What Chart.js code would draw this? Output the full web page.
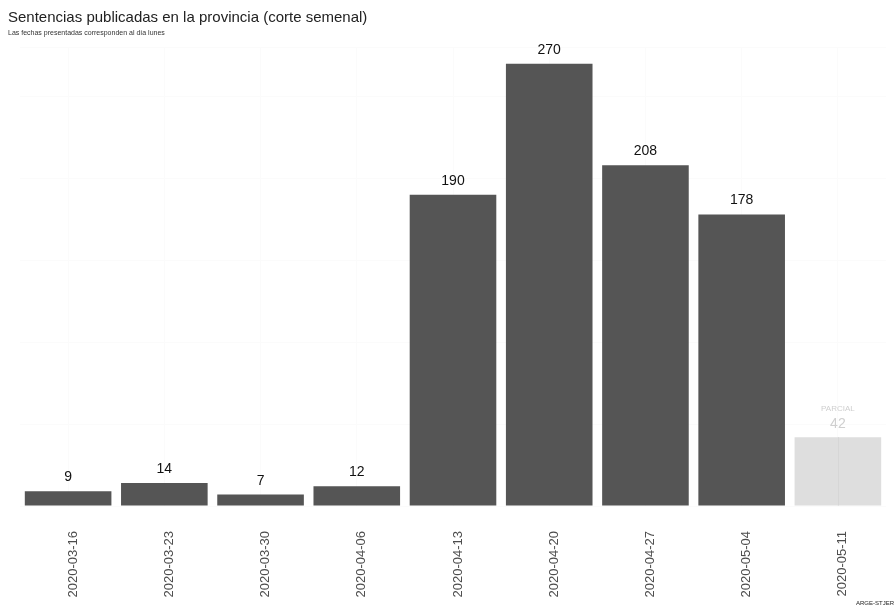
<!DOCTYPE html>
<html>
<head>
<meta charset="utf-8">
<script src="https://cdn.jsdelivr.net/npm/chart.js@4/dist/chart.umd.min.js"></script>
<style>
  html, body { margin: 0; padding: 0; background: #fff; }
  #wrap { width: 895px; height: 607px; }
</style>
</head>
<body>
<div id="wrap"><canvas id="chart"></canvas></div>
<script>
const weeks = ["2020-03-16", "2020-03-23", "2020-03-30", "2020-04-06", "2020-04-13",
  "2020-04-20", "2020-04-27", "2020-05-04", "2020-05-11"];
const sentencias = [9, 14, 7, 12, 190, 270, 208, 178, 42];
const partial = [false, false, false, false, false, false, false, false, true];

const FONT = "'Liberation Sans', Arial, sans-serif";

// value labels above each bar
const barLabels = {
  id: "barLabels",
  afterDatasetsDraw(chart) {
    const ctx = chart.ctx;
    const meta = chart.getDatasetMeta(0);
    ctx.save();
    ctx.textAlign = "center";
    ctx.textBaseline = "alphabetic";
    meta.data.forEach((bar, i) => {
      if (partial[i]) {
        // grid line shows through the light partial bar
        ctx.strokeStyle = "#d6d6d6";
        ctx.lineWidth = 1;
        ctx.beginPath();
        ctx.moveTo(Math.round(bar.x) + 0.5, bar.y);
        ctx.lineTo(Math.round(bar.x) + 0.5, bar.base);
        ctx.stroke();
        ctx.fillStyle = "#cfcfcf";
        ctx.font = "14px " + FONT;
        ctx.fillText(sentencias[i], bar.x, bar.y - 9);
        ctx.font = "8px " + FONT;
        ctx.fillText("PARCIAL", bar.x, bar.y - 26);
      } else {
        ctx.fillStyle = "#111";
        ctx.font = "14px " + FONT;
        ctx.fillText(sentencias[i], bar.x, bar.y - 10);
      }
    });
    ctx.restore();
  }
};

const caption = {
  id: "caption",
  afterDraw(chart) {
    const ctx = chart.ctx;
    ctx.save();
    ctx.font = "6px " + FONT;
    ctx.fillStyle = "#222";
    ctx.textAlign = "right";
    ctx.textBaseline = "bottom";
    ctx.fillText("ARGE-STJER", chart.width - 1, chart.height - 1);
    ctx.restore();
  }
};

new Chart(document.getElementById("chart").getContext("2d"), {
  type: "bar",
  data: {
    labels: weeks,
    datasets: [{
      data: sentencias,
      backgroundColor: partial.map(p => p ? "#dedede" : "#555555"),
      borderWidth: 0,
      categoryPercentage: 0.9,
      barPercentage: 1,
    }],
  },
  options: {
    responsive: true,
    maintainAspectRatio: false,
    animation: false,
    layout: { padding: { left: 8, right: 9, top: 0, bottom: 0 } },
    plugins: {
      legend: { display: false },
      tooltip: { enabled: false },
      title: {
        display: true,
        text: "Sentencias publicadas en la provincia (corte semenal)",
        align: "start",
        color: "#222",
        font: { family: FONT, size: 15, weight: "normal" },
        padding: { top: 9, bottom: 2 },
      },
      subtitle: {
        display: true,
        text: "Las fechas presentadas corresponden al día lunes",
        align: "start",
        color: "#333",
        font: { family: FONT, size: 7 },
        padding: { top: 0, bottom: 10 },
      },
    },
    scales: {
      x: {
        grid: { color: "#fbfbfb", drawTicks: false, offset: false },
        border: { display: false },
        ticks: {
          color: "#4d4d4d",
          font: { family: FONT, size: 13 },
          minRotation: 90,
          maxRotation: 90,
          padding: 25,
          labelOffset: 5,
        },
        afterFit(scale) { scale.height = 101; },
      },
      y: {
        min: 0,
        max: 280,
        grid: { color: "#fbfbfb", drawTicks: false },
        border: { display: false },
        ticks: { display: false, stepSize: 50 },
        afterFit(scale) { scale.width = 12; },
      },
    },
  },
  plugins: [barLabels, caption],
});
</script>
</body>
</html>
